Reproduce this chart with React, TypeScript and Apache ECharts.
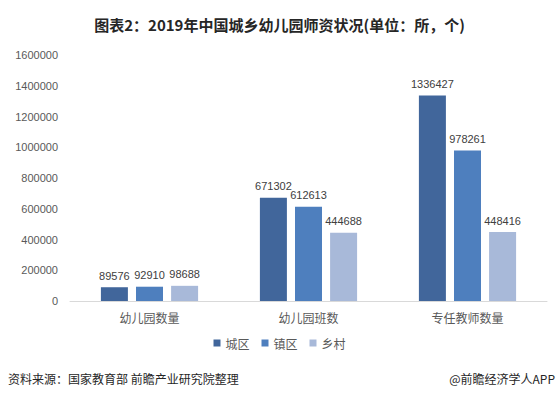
import React, { useEffect, useRef } from "react";
import * as echarts from "echarts";

const categories = ["幼儿园数量", "幼儿园班数", "专任教师数量"];
const seriesNames = ["城区", "镇区", "乡村"];
const cityValues = [89576, 671302, 1336427];
const townValues = [92910, 612613, 978261];
const villageValues = [98688, 444688, 448416];
const colors = ["#41669B", "#4E7FBE", "#A8B9D9"];

export default function App() {
  const ref = useRef<HTMLDivElement>(null);
  useEffect(() => {
    const chart = echarts.init(ref.current!, null, { renderer: "svg" });
    const data = [cityValues, townValues, villageValues];
    chart.setOption({
      animation: false,
      backgroundColor: "#ffffff",
      title: {
        text: "图表2：2019年中国城乡幼儿园师资状况(单位：所，个)",
        left: "center",
        top: 12,
        textStyle: { fontSize: 15, fontWeight: "bold", color: "#262626", fontFamily: "Noto Sans CJK SC" },
      },
      legend: {
        data: seriesNames,
        bottom: 45,
        left: "center",
        icon: "rect",
        itemWidth: 7,
        itemHeight: 7,
        itemGap: 12,
        textStyle: { fontSize: 12, color: "#595959", fontFamily: "Noto Sans CJK SC" },
      },
      grid: { left: 70, right: 12, top: 55, bottom: 98, containLabel: false },
      xAxis: {
        type: "category",
        data: categories,
        axisLine: { lineStyle: { color: "#D9D9D9" } },
        axisTick: { show: false },
        axisLabel: { fontSize: 12, color: "#595959", margin: 10, fontFamily: "Noto Sans CJK SC" },
      },
      yAxis: {
        type: "value",
        min: 0,
        max: 1600000,
        interval: 200000,
        axisLine: { show: false },
        axisTick: { show: false },
        splitLine: { show: false },
        axisLabel: {
          fontSize: 11,
          color: "#595959",
          margin: 12,
          fontFamily: "Liberation Sans",
          formatter: (v: number) => String(v),
        },
      },
      series: seriesNames.map((name, i) => ({
        name,
        type: "bar",
        data: data[i],
        barWidth: 27,
        barGap: "30%",
        itemStyle: { color: colors[i] },
        label: {
          show: true,
          position: "top",
          distance: 6,
          fontSize: 11,
          color: "#404040",
          fontFamily: "Liberation Sans",
        },
      })),
      graphic: [
        {
          type: "text",
          left: 8,
          top: 372,
          style: { text: "资料来源：国家教育部 前瞻产业研究院整理", fontSize: 12, fill: "#262626", fontFamily: "Noto Sans CJK SC" },
        },
        {
          type: "text",
          right: 4,
          top: 372,
          style: { text: "@前瞻经济学人APP", fontSize: 12, fill: "#262626", fontFamily: "Noto Sans CJK SC" },
        },
      ],
    });
    return () => chart.dispose();
  }, []);
  return <div ref={ref} style={{ width: 559, height: 399, position: "absolute", left: 0, top: 0 }} />;
}
